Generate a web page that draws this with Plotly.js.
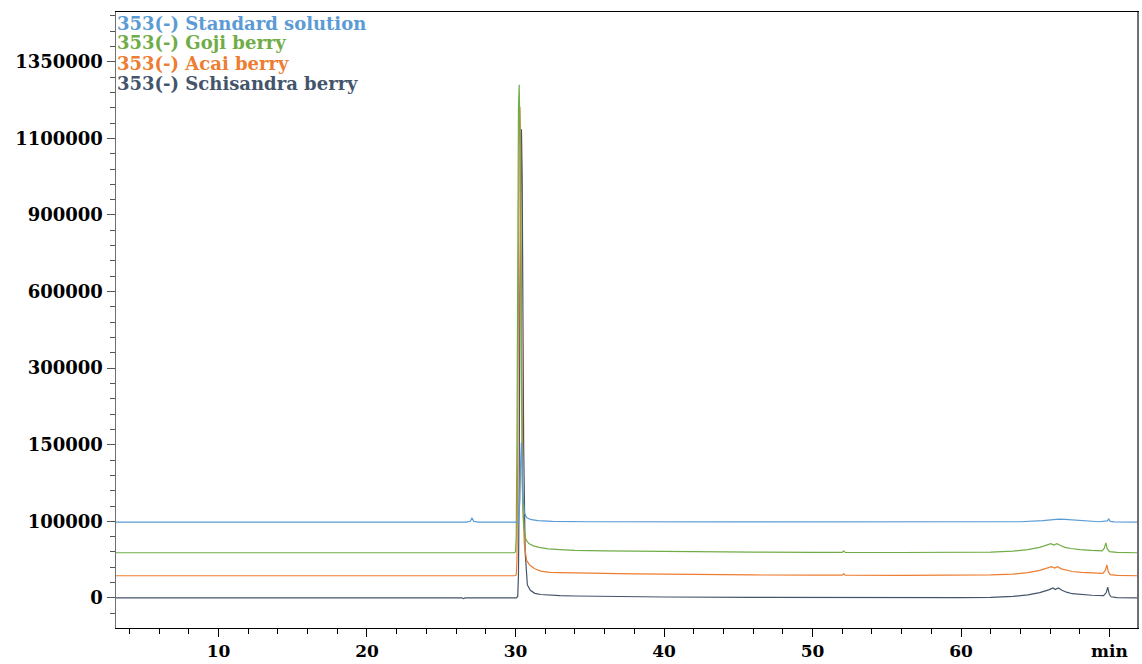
<!DOCTYPE html>
<html>
<head>
<meta charset="utf-8">
<script src="https://cdn.plot.ly/plotly-3.0.1.min.js"></script>
<style>html,body{margin:0;padding:0;background:#fff;}#chart{width:1142px;height:664px;}</style>
</head>
<body>
<div id="chart"></div>
<script>
// Series names and colours
const seriesNames = ["353(-) Standard solution", "353(-) Goji berry", "353(-) Acai berry", "353(-) Schisandra berry"];
const seriesColors = ["#5b9bd5", "#70ad47", "#ed7d31", "#44546a"];
// Stacking offsets (display units, one unit = one labelled tick step)
const baselineOffsets = [0.99, 0.59, 0.29, 0];

// Y tick labels as printed on the reference (equally spaced)
const yTickVals = [0, 1, 2, 3, 4, 5, 6, 7];
const yTickText = ["0", "100000", "150000", "300000", "600000", "900000", "1100000", "1350000"];
// X tick labels (retention time, min)
const xTickVals = [10, 20, 30, 40, 50, 60, 70];
const xTickText = ["10", "20", "30", "40", "50", "60", "min"];

// Standard solution
const stdTime = [3.1, 26.7, 26.95, 27.07, 27.2, 27.5, 30.2, 30.3, 30.35, 30.4, 30.45, 30.5, 30.6, 30.75, 31.0, 31.5, 32.5, 35, 45, 55, 60, 64, 65.5, 66.2, 66.6, 67.0, 67.6, 68.4, 69.3, 69.85, 69.95, 70.05, 70.3, 71.85];
const stdSignal = [0, 0, 0.01, 0.05, 0.01, 0, 0, 0.3, 0.8, 1.04, 0.75, 0.35, 0.12, 0.06, 0.035, 0.02, 0.01, 0.005, 0.003, 0, 0, 0.005, 0.02, 0.035, 0.04, 0.035, 0.025, 0.015, 0.005, 0.015, 0.04, 0.01, 0.003, 0];

// Goji berry
const gojiTime = [3.1, 29.9, 30.0, 30.05, 30.1, 30.15, 30.2, 30.25, 30.3, 30.35, 30.4, 30.45, 30.55, 30.7, 30.9, 31.2, 31.6, 32.2, 33, 34, 36, 38, 42, 46, 50, 52.0, 52.1, 52.2, 56, 60, 62, 63.5, 64.5, 65.3, 65.8, 66.05, 66.25, 66.45, 66.7, 67.0, 67.4, 68.0, 68.8, 69.5, 69.65, 69.75, 69.85, 70.0, 70.5, 71.85];
const gojiSignal = [0, 0, 0.01, 0.2, 1.5, 4.0, 5.8, 6.11, 5.5, 3.8, 2.0, 0.9, 0.35, 0.17, 0.12, 0.09, 0.07, 0.05, 0.04, 0.03, 0.025, 0.02, 0.012, 0.008, 0.005, 0.005, 0.025, 0.005, 0.003, 0.003, 0.008, 0.02, 0.04, 0.07, 0.1, 0.118, 0.1, 0.118, 0.095, 0.07, 0.055, 0.04, 0.03, 0.025, 0.06, 0.13, 0.05, 0.015, 0.005, 0];

// Acai berry
const acaiTime = [3.1, 29.95, 30.05, 30.1, 30.15, 30.2, 30.25, 30.3, 30.35, 30.4, 30.45, 30.5, 30.6, 30.75, 30.95, 31.3, 31.7, 32.3, 33, 34, 36, 38, 42, 46, 50, 52.0, 52.1, 52.2, 56, 60, 62, 63.5, 64.5, 65.3, 65.85, 66.1, 66.3, 66.5, 66.75, 67.1, 67.5, 68.1, 68.8, 69.55, 69.72, 69.82, 69.92, 70.05, 70.5, 71.85];
const acaiSignal = [0, 0, 0.01, 0.2, 1.5, 4.0, 5.8, 6.12, 5.5, 3.8, 2.0, 0.9, 0.4, 0.2, 0.14, 0.09, 0.06, 0.045, 0.04, 0.035, 0.03, 0.025, 0.015, 0.01, 0.008, 0.008, 0.025, 0.008, 0.005, 0.005, 0.01, 0.02, 0.04, 0.07, 0.1, 0.118, 0.1, 0.118, 0.09, 0.07, 0.055, 0.045, 0.035, 0.03, 0.07, 0.14, 0.05, 0.015, 0.005, 0];

// Schisandra berry
const schTime = [3.1, 26.4, 26.5, 26.6, 30.05, 30.15, 30.2, 30.25, 30.3, 30.35, 30.4, 30.45, 30.5, 30.55, 30.65, 30.8, 31.0, 31.3, 31.7, 32.3, 33, 34, 36, 40, 46, 50, 56, 60, 62, 63.5, 64.5, 65.3, 65.9, 66.2, 66.35, 66.55, 66.8, 67.1, 67.5, 68.1, 68.8, 69.6, 69.78, 69.88, 69.98, 70.1, 70.5, 71.85];
const schSignal = [0, 0, -0.01, 0, 0, 0.02, 0.3, 1.5, 4.0, 5.8, 6.12, 5.5, 3.8, 2.0, 0.6, 0.17, 0.1, 0.06, 0.045, 0.035, 0.03, 0.025, 0.02, 0.012, 0.008, 0.005, 0.003, 0.003, 0.008, 0.02, 0.04, 0.07, 0.105, 0.13, 0.11, 0.13, 0.1, 0.075, 0.055, 0.045, 0.035, 0.03, 0.07, 0.14, 0.05, 0.015, 0.005, 0];

const times = [stdTime, gojiTime, acaiTime, schTime];
const signals = [stdSignal, gojiSignal, acaiSignal, schSignal];

const FONT = "DejaVu Serif";

// draw order: bottom first so the standard sits on top like the reference
const order = [3, 2, 1, 0];
const traces = order.map(i => ({
  type: "scatter",
  mode: "lines",
  x: times[i],
  y: signals[i].map(v => v + baselineOffsets[i]),
  name: seriesNames[i],
  line: {color: seriesColors[i], width: 1.2},
  hoverinfo: "skip"
}));

const annotations = seriesNames.map((n, i) => ({
  xref: "paper", yref: "paper",
  x: 0, y: [0.982, 0.9497, 0.9172, 0.8847][i],
  xanchor: "left", yanchor: "middle",
  showarrow: false,
  text: n,
  font: {family: FONT, size: 18, color: seriesColors[i], weight: 700},
  borderpad: 0
}));

const layout = {
  width: 1142, height: 664,
  margin: {l: 116, r: 5, t: 12, b: 36},
  paper_bgcolor: "#ffffff", plot_bgcolor: "#ffffff",
  showlegend: false,
  xaxis: {
    range: [3.1, 71.85],
    tickmode: "array", tickvals: xTickVals, ticktext: xTickText,
    ticks: "outside", ticklen: 8, tickcolor: "#000", tickwidth: 1,
    minor: {dtick: 2, tick0: 0, ticks: "outside", ticklen: 5, tickcolor: "#000", showgrid: false},
    showgrid: false, zeroline: false,
    showline: true, linecolor: "#000", linewidth: 1, mirror: true,
    tickfont: {family: FONT, size: 17, color: "#000", weight: 700}
  },
  yaxis: {
    range: [-0.3925, 7.65],
    tickmode: "array", tickvals: yTickVals, ticktext: yTickText,
    ticks: "outside", ticklen: 8, tickcolor: "#555", tickwidth: 1,
    minor: {dtick: 0.2, tick0: 0, ticks: "outside", ticklen: 5, tickcolor: "#555", showgrid: false},
    showgrid: false, zeroline: false,
    showline: true, linecolor: "#6f6f6f", linewidth: 1.5, mirror: true,
    tickfont: {family: FONT, size: 18, color: "#000", weight: 700}
  },
  annotations: annotations
};

Plotly.newPlot("chart", traces, layout, {displayModeBar: false, staticPlot: true});
</script>
</body>
</html>
